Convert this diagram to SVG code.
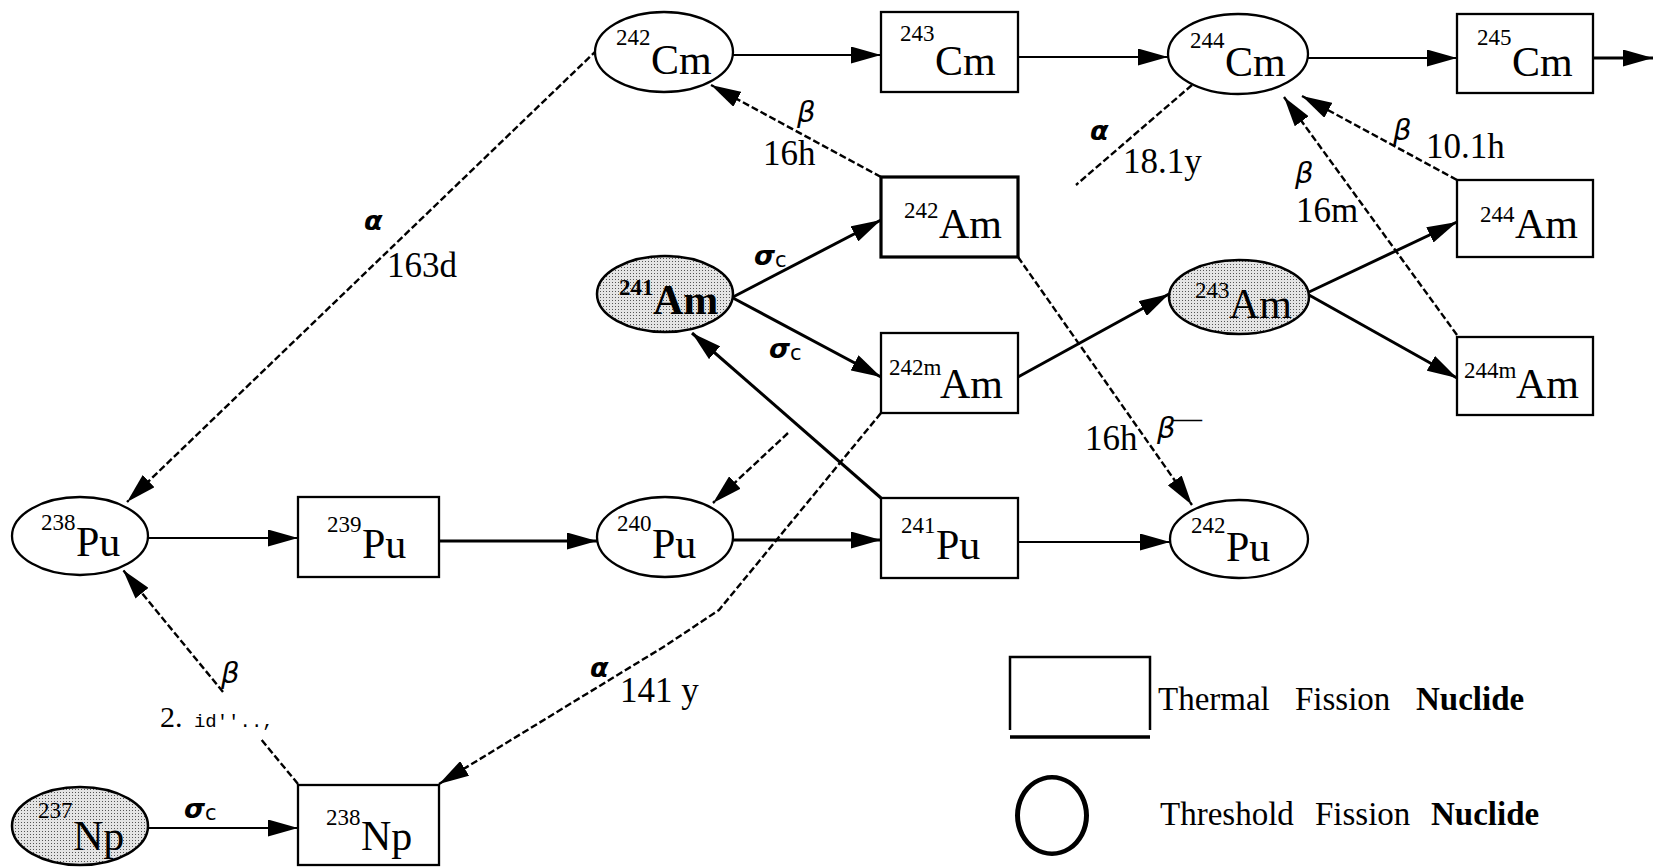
<svg xmlns="http://www.w3.org/2000/svg" width="1653" height="867" viewBox="0 0 1653 867">
<style>
.nd{fill:#fff;stroke:#000;stroke-width:2.3}
.sh{fill:url(#dots);stroke:#000;stroke-width:2.5}
.th{stroke-width:3.2}
.sup{font-family:"Liberation Serif",serif;font-size:23px}
.el{font-family:"Liberation Serif",serif;font-size:42px}
.num{font-family:"Liberation Serif",serif;font-size:35px}
.gr{font-family:"DejaVu Sans",sans-serif;font-style:italic;font-weight:bold;font-size:27px}
.grb{font-family:"DejaVu Sans",sans-serif;font-style:italic;font-size:29px}
.sub{font-family:"DejaVu Sans",sans-serif;font-style:normal;font-weight:normal;font-size:21px}
.leg{font-family:"Liberation Serif",serif;font-size:33px}
.c{fill:none;stroke:#000;stroke-width:2}
.ct{fill:none;stroke:#000;stroke-width:3}
.d{fill:none;stroke:#000;stroke-width:2.4;stroke-dasharray:7 3}
</style>
<defs>
<pattern id="dots" width="3" height="3" patternUnits="userSpaceOnUse"><rect width="3" height="3" fill="#e4e4e4"/><rect width="1" height="1" fill="#555"/></pattern>
<marker id="ah" markerUnits="userSpaceOnUse" markerWidth="30" markerHeight="17" viewBox="0 0 30 17" refX="30" refY="8.5" orient="auto"><path d="M0,0 L30,8.5 L0,17 z" fill="#000"/></marker>
</defs>

<g id="connectors">
<path class="c" d="M733,55 H881" marker-end="url(#ah)"/>
<path class="c" d="M1018,57 H1168" marker-end="url(#ah)"/>
<path class="c" d="M1308,58 H1457" marker-end="url(#ah)"/>
<path class="ct" d="M1593,58 H1653" marker-end="url(#ah)"/>
<path class="ct" d="M733,297 L881,220" marker-end="url(#ah)"/>
<path class="ct" d="M733,298 L881,377" marker-end="url(#ah)"/>
<path class="ct" d="M1018,377 L1169,294" marker-end="url(#ah)"/>
<path class="ct" d="M1309,292 L1457,222" marker-end="url(#ah)"/>
<path class="ct" d="M1309,295 L1457,378" marker-end="url(#ah)"/>
<path class="ct" d="M881,498 L692,333" marker-end="url(#ah)"/>
<path class="c" d="M148,538 H298" marker-end="url(#ah)"/>
<path class="ct" d="M439,541 H597" marker-end="url(#ah)"/>
<path class="ct" d="M733,540 H881" marker-end="url(#ah)"/>
<path class="c" d="M1018,542 H1170" marker-end="url(#ah)"/>
<path class="c" d="M148,828 H298" marker-end="url(#ah)"/>

<path class="d" d="M597,50 L127,502" marker-end="url(#ah)"/>
<path class="d" d="M881,177 L711,85" marker-end="url(#ah)"/>
<path class="d" d="M1192,85 L1076,185"/>
<path class="d" d="M788,433 L713,503" marker-end="url(#ah)"/>
<path class="d" d="M1018,257 L1192,505" marker-end="url(#ah)"/>
<path class="d" d="M1457,180 L1302,96" marker-end="url(#ah)"/>
<path class="d" d="M1457,335 L1284,97" marker-end="url(#ah)"/>
<path class="d" d="M881,413 L719,610 L665,646 L439,784" marker-end="url(#ah)"/>
<path class="d" d="M298,784 L260,738"/>
<path class="d" d="M223,692 L123,570" marker-end="url(#ah)"/>

<text class="gr" x="364" y="230">α</text>
<text class="num" x="387" y="277">163d</text>
<text class="grb" x="797" y="122">β</text>
<text class="num" x="763" y="165">16h</text>
<text class="gr" x="754" y="265">σ<tspan class="sub" dy="2">c</tspan></text>
<text class="gr" x="769" y="358">σ<tspan class="sub" dy="2">c</tspan></text>
<text class="gr" x="1090" y="140">α</text>
<text class="num" x="1123" y="173">18.1y</text>
<text class="grb" x="1393" y="140">β</text>
<text class="num" x="1426" y="158">10.1h</text>
<text class="grb" x="1295" y="183">β</text>
<text class="num" x="1296" y="222">16m</text>
<text class="num" x="1085" y="450">16h</text>
<text class="grb" x="1157" y="438">β<tspan font-family="Liberation Serif, serif" font-style="normal" font-size="29" x="1173" y="428">—</tspan></text>
<text class="grb" x="221" y="683">β</text>
<text x="160" y="727"><tspan font-family="Liberation Serif, serif" font-size="30">2.</tspan><tspan font-family="Liberation Mono, monospace" font-size="19"> id''..,</tspan></text>
<text class="gr" x="184" y="818">σ<tspan class="sub" dy="2">c</tspan></text>
<text class="gr" x="590" y="677">α</text>
<text class="num" x="620" y="702" font-size="32">141 y</text>
</g>

<g id="n242Cm"><ellipse class="nd" cx="664" cy="52" rx="69" ry="40"/><text><tspan class="sup" x="616" y="45">242</tspan><tspan class="el" x="651" y="74">Cm</tspan></text></g>
<g id="n243Cm"><rect class="nd" x="881" y="12" width="137" height="80"/><text><tspan class="sup" x="900" y="41">243</tspan><tspan class="el" x="935" y="75">Cm</tspan></text></g>
<g id="n244Cm"><ellipse class="nd" cx="1238" cy="54" rx="70" ry="40"/><text><tspan class="sup" x="1190" y="48">244</tspan><tspan class="el" x="1225" y="76">Cm</tspan></text></g>
<g id="n245Cm"><rect class="nd" x="1457" y="14" width="136" height="79"/><text><tspan class="sup" x="1477" y="45">245</tspan><tspan class="el" x="1512" y="76">Cm</tspan></text></g>

<g id="n242Am"><rect class="nd th" x="881" y="177" width="137" height="80"/><text><tspan class="sup" x="904" y="218">242</tspan><tspan class="el" x="939" y="238">Am</tspan></text></g>
<g id="n241Am"><ellipse class="sh" cx="665" cy="294" rx="68" ry="38"/><text font-weight="bold"><tspan class="sup" x="619" y="295">241</tspan><tspan class="el" x="653" y="314">Am</tspan></text></g>
<g id="n242mAm"><rect class="nd" x="881" y="333" width="137" height="80"/><text><tspan class="sup" x="889" y="375">242m</tspan><tspan class="el" x="940" y="398">Am</tspan></text></g>
<g id="n243Am"><ellipse class="sh" cx="1239" cy="297" rx="70" ry="37"/><text><tspan class="sup" x="1195" y="298">243</tspan><tspan class="el" x="1229" y="318">Am</tspan></text></g>
<g id="n244Am"><rect class="nd" x="1457" y="180" width="136" height="77"/><text><tspan class="sup" x="1480" y="222">244</tspan><tspan class="el" x="1515" y="238">Am</tspan></text></g>
<g id="n244mAm"><rect class="nd" x="1457" y="337" width="136" height="78"/><text><tspan class="sup" x="1464" y="378">244m</tspan><tspan class="el" x="1516" y="398">Am</tspan></text></g>

<g id="n238Pu"><ellipse class="nd" cx="80" cy="536" rx="68" ry="39"/><text><tspan class="sup" x="41" y="530">238</tspan><tspan class="el" x="76" y="556">Pu</tspan></text></g>
<g id="n239Pu"><rect class="nd" x="298" y="497" width="141" height="80"/><text><tspan class="sup" x="327" y="532">239</tspan><tspan class="el" x="362" y="558">Pu</tspan></text></g>
<g id="n240Pu"><ellipse class="nd" cx="665" cy="537" rx="68" ry="40"/><text><tspan class="sup" x="617" y="531">240</tspan><tspan class="el" x="652" y="558">Pu</tspan></text></g>
<g id="n241Pu"><rect class="nd" x="881" y="498" width="137" height="80"/><text><tspan class="sup" x="901" y="533">241</tspan><tspan class="el" x="936" y="559">Pu</tspan></text></g>
<g id="n242Pu"><ellipse class="nd" cx="1239" cy="539" rx="69" ry="39"/><text><tspan class="sup" x="1191" y="533">242</tspan><tspan class="el" x="1226" y="561">Pu</tspan></text></g>

<g id="n237Np"><ellipse class="sh" cx="80" cy="826" rx="68" ry="39"/><text><tspan class="sup" x="38" y="818">237</tspan><tspan class="el" x="73" y="850">Np</tspan></text></g>
<g id="n238Np"><rect class="nd" x="298" y="785" width="141" height="80"/><text><tspan class="sup" x="326" y="825">238</tspan><tspan class="el" x="361" y="850">Np</tspan></text></g>

<g id="legend">
<path d="M1010,730 V657 H1150 V730" fill="none" stroke="#000" stroke-width="2.5"/>
<path d="M1010,737 H1150" fill="none" stroke="#000" stroke-width="3.5"/>
<text class="leg" x="1158" y="710">Thermal</text>
<text class="leg" x="1295" y="710">Fission</text>
<text class="leg" x="1416" y="710" font-weight="bold">Nuclide</text>
<path d="M1052,775 a37,40.5 0 1,0 0.01,0 z M1052,779.5 a32,36 0 1,1 -0.01,0 z" fill="#000" fill-rule="evenodd"/>
<text class="leg" x="1160" y="825">Threshold</text>
<text class="leg" x="1315" y="825">Fission</text>
<text class="leg" x="1431" y="825" font-weight="bold">Nuclide</text>
</g>
</svg>
